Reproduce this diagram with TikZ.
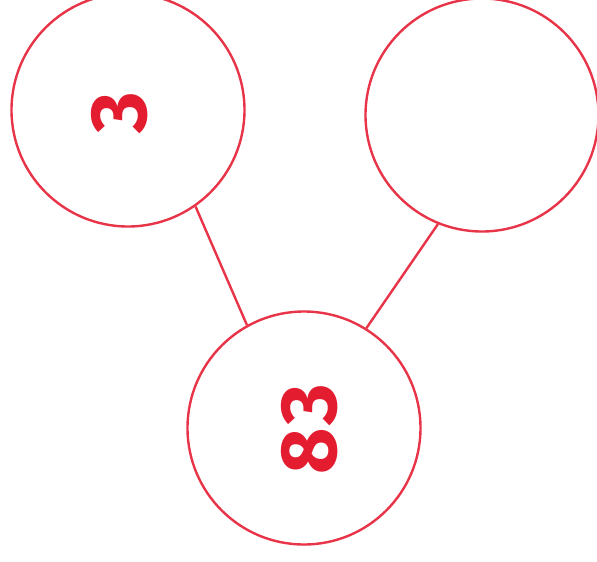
\documentclass[tikz,border=0pt]{standalone}
\usepackage{fontspec}
\setmainfont{Fira Sans}
\definecolor{ringred}{RGB}{232,52,72}
\definecolor{digitred}{RGB}{228,28,48}
\begin{document}
\begin{tikzpicture}[x=1pt,y=-1pt,
  ring/.style={circle,draw=ringred,line width=2.4pt,minimum size=233pt,inner sep=0pt},
  link/.style={draw=ringred,line width=2.4pt},
  digits/.style={text=digitred,font=\bfseries\fontsize{80}{80}\selectfont,rotate=90}]
\useasboundingbox (0,0) rectangle (597,562);
\node[ring] (L) at (128,110) {};
\node[ring] (R) at (482,115) {};
\node[ring] (B) at (304,428) {};
\node[digits] (tl) at (120,113) {3};
\node[digits] (tb) at (310,429) {8\kern2pt3};
\draw[link] (L.-55) -- (B.119);
\draw[link] (R.-112) -- (B.58);
\end{tikzpicture}
\end{document}
